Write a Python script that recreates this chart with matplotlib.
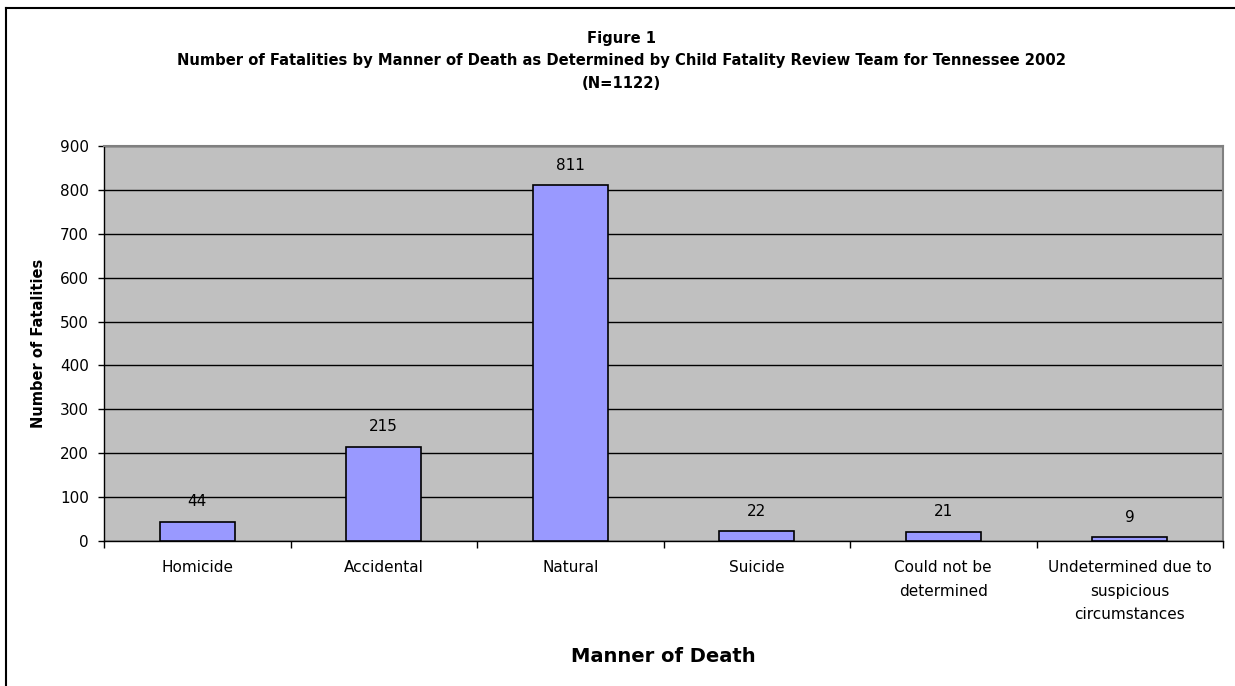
import matplotlib
matplotlib.use("Agg")
import matplotlib.pyplot as plt
from matplotlib.ticker import FixedLocator, NullFormatter
import numpy as np

categories = ["Homicide", "Accidental", "Natural", "Suicide",
              "Could not be\ndetermined", "Undetermined due to\nsuspicious\ncircumstances"]
values = [44, 215, 811, 22, 21, 9]
yticks = [0, 100, 200, 300, 400, 500, 600, 700, 800, 900]

plt.rcParams['font.family'] = ['DejaVu Sans']

fig = plt.figure(figsize=(12.35, 6.86), dpi=100)
ax = fig.add_axes([104/1235, 1-541/686, (1223-104)/1235, (541-146)/686])
ax.set_facecolor('#C0C0C0')

x = np.arange(len(categories))
ax.bar(x, values, width=0.4, color='#9999FF', edgecolor='black', linewidth=1.2, zorder=3)
for xi, v in zip(x, values):
    ax.annotate(str(v), (xi, v), xytext=(0, 9), textcoords='offset points',
                ha='center', va='bottom', fontsize=11)

ax.set_xlim(-0.5, len(categories) - 0.5)
ax.set_ylim(0, 900)
ax.set_yticks(yticks)
ax.tick_params(axis='y', labelsize=11, length=4.5, direction='out', width=1, pad=6.5)
ax.yaxis.grid(True, color='black', linewidth=1, zorder=1)
ax.set_axisbelow(True)

ax.set_xticks(x)
ax.set_xticklabels(categories, fontsize=11, linespacing=1.7, va='top')
ax.tick_params(axis='x', length=0, pad=14)
ax.xaxis.set_minor_locator(FixedLocator(np.arange(-0.5, len(categories), 1.0)))
ax.xaxis.set_minor_formatter(NullFormatter())
ax.tick_params(axis='x', which='minor', length=5, width=1, direction='out')

for s in ['left', 'bottom']:
    ax.spines[s].set_color('black')
    ax.spines[s].set_linewidth(1)
for s in ['top', 'right']:
    ax.spines[s].set_color('#808080')
    ax.spines[s].set_linewidth(1.5)

ax.set_ylabel("Number of Fatalities", fontsize=10.5, fontweight='bold', labelpad=10)
ax.set_xlabel("Manner of Death", fontsize=14, fontweight='bold', labelpad=18)

title_kw = dict(ha='center', va='baseline', fontsize=10.6, fontweight='bold')
fig.text(0.503, 1-43/686, "Figure 1", **title_kw)
fig.text(0.503, 1-65.5/686, "Number of Fatalities by Manner of Death as Determined by Child Fatality Review Team for Tennessee 2002", **title_kw)
fig.text(0.503, 1-88/686, "(N=1122)", **title_kw)

# outer chart border (top and left visible)
fig.add_artist(plt.Line2D([6/1235, 1], [1-8/686, 1-8/686], color='black', linewidth=1.5, transform=fig.transFigure))
fig.add_artist(plt.Line2D([6/1235, 6/1235], [0, 1-8/686], color='black', linewidth=1.5, transform=fig.transFigure))

fig.savefig("out.png", dpi=100)
